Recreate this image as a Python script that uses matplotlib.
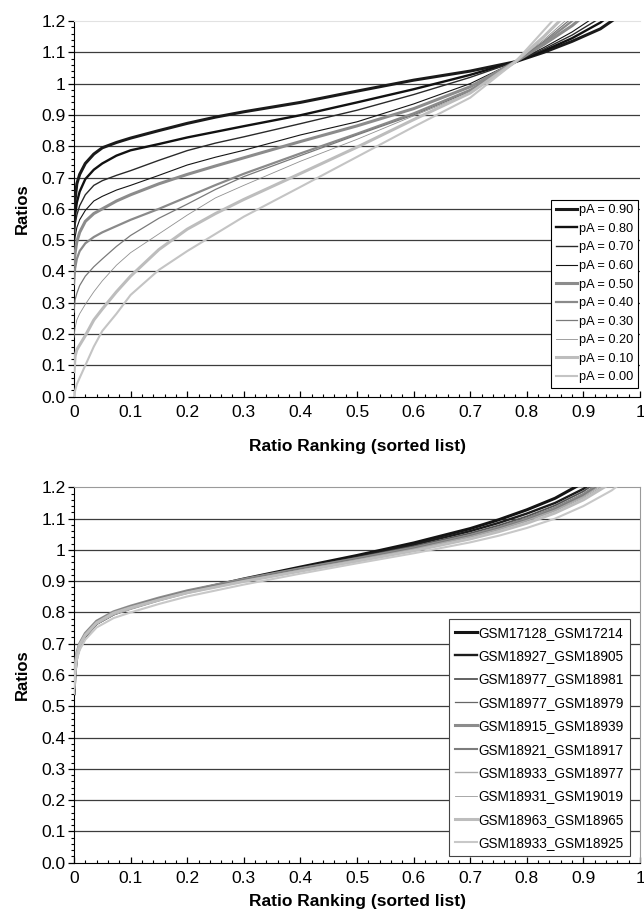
import matplotlib
matplotlib.use("Agg")
import matplotlib.pyplot as plt
from matplotlib.ticker import MultipleLocator

plt.rcParams['font.family'] = ['Liberation Sans', 'DejaVu Sans']

# ---- top panel : simulated mixtures, pA = 0.90 ... 0.00 ----
top_x = [0, 0.002, 0.005, 0.01, 0.02, 0.035, 0.05, 0.075, 0.1, 0.15, 0.2, 0.25,
         0.3, 0.4, 0.5, 0.6, 0.7, 0.78, 0.83, 0.88, 0.93, 0.97, 1.0]

pA_labels = ["pA = 0.90", "pA = 0.80", "pA = 0.70", "pA = 0.60", "pA = 0.50",
             "pA = 0.40", "pA = 0.30", "pA = 0.20", "pA = 0.10", "pA = 0.00"]

pA_090 = [0.57, 0.63, 0.68, 0.71, 0.745, 0.775, 0.795, 0.812, 0.826, 0.85, 0.873, 0.893,
          0.91, 0.94, 0.976, 1.011, 1.04, 1.07, 1.10, 1.135, 1.175, 1.225, 1.3]
pA_080 = [0.52, 0.58, 0.62, 0.655, 0.695, 0.725, 0.745, 0.77, 0.787, 0.807, 0.828, 0.846,
          0.864, 0.899, 0.94, 0.982, 1.028, 1.07, 1.105, 1.145, 1.195, 1.25, 1.32]
pA_070 = [0.52, 0.55, 0.58, 0.61, 0.645, 0.675, 0.69, 0.707, 0.722, 0.755, 0.786, 0.81,
          0.83, 0.872, 0.915, 0.965, 1.02, 1.07, 1.11, 1.155, 1.21, 1.28, 1.35]
pA_060 = [0.48, 0.51, 0.54, 0.565, 0.595, 0.625, 0.64, 0.66, 0.675, 0.707, 0.74, 0.765,
          0.787, 0.836, 0.878, 0.935, 1.0, 1.07, 1.115, 1.165, 1.225, 1.3, 1.37]
pA_050 = [0.42, 0.46, 0.495, 0.525, 0.56, 0.585, 0.60, 0.625, 0.645, 0.68, 0.71, 0.737,
          0.763, 0.815, 0.865, 0.92, 0.99, 1.07, 1.125, 1.185, 1.26, 1.33, 1.4]
pA_040 = [0.36, 0.41, 0.44, 0.465, 0.49, 0.51, 0.525, 0.545, 0.565, 0.60, 0.638, 0.676,
          0.712, 0.777, 0.84, 0.905, 0.98, 1.07, 1.13, 1.2, 1.28, 1.36, 1.42]
pA_030 = [0.27, 0.31, 0.33, 0.355, 0.385, 0.415, 0.44, 0.48, 0.515, 0.57, 0.615, 0.662,
          0.703, 0.77, 0.836, 0.9, 0.975, 1.07, 1.135, 1.21, 1.3, 1.38, 1.45]
pA_020 = [0.19, 0.22, 0.245, 0.265, 0.295, 0.335, 0.37, 0.42, 0.46, 0.52, 0.58, 0.635,
          0.675, 0.752, 0.822, 0.897, 0.97, 1.07, 1.14, 1.22, 1.31, 1.39, 1.46]
pA_010 = [0.08, 0.13, 0.15, 0.165, 0.195, 0.245, 0.28, 0.335, 0.385, 0.47, 0.535, 0.585,
          0.63, 0.713, 0.797, 0.885, 0.97, 1.07, 1.15, 1.24, 1.33, 1.41, 1.48]
pA_000 = [0.0, 0.02, 0.04, 0.06, 0.10, 0.16, 0.21, 0.265, 0.325, 0.405, 0.465, 0.52,
          0.575, 0.67, 0.766, 0.862, 0.955, 1.07, 1.17, 1.27, 1.36, 1.43, 1.5]

top_series = [pA_090, pA_080, pA_070, pA_060, pA_050, pA_040, pA_030, pA_020, pA_010, pA_000]
top_colors = ['#1a1a1a', '#111111', '#2a2a2a', '#151515', '#8c8c8c',
              '#8a8a8a', '#7a7a7a', '#909090', '#bdbdbd', '#c4c4c4']
top_widths = [2.2, 1.7, 1.0, 0.8, 2.2, 1.6, 0.9, 0.6, 2.2, 1.5]

# ---- bottom panel : real array pairs ----
bot_x = [0, 0.002, 0.005, 0.01, 0.02, 0.04, 0.07, 0.1, 0.15, 0.2, 0.3, 0.4, 0.5,
         0.6, 0.7, 0.75, 0.8, 0.85, 0.9, 0.95, 1.0]

gsm_labels = ["GSM17128_GSM17214", "GSM18927_GSM18905", "GSM18977_GSM18981",
              "GSM18977_GSM18979", "GSM18915_GSM18939", "GSM18921_GSM18917",
              "GSM18933_GSM18977", "GSM18931_GSM19019", "GSM18963_GSM18965",
              "GSM18933_GSM18925"]

g1 = [0.54, 0.61, 0.66, 0.69, 0.725, 0.765, 0.795, 0.815, 0.842, 0.866, 0.907, 0.945, 0.982,
      1.022, 1.068, 1.096, 1.128, 1.165, 1.215, 1.3, 1.4]
g2 = [0.55, 0.62, 0.665, 0.695, 0.728, 0.765, 0.795, 0.813, 0.84, 0.864, 0.905, 0.942, 0.978,
      1.016, 1.06, 1.086, 1.116, 1.15, 1.195, 1.26, 1.35]
g3 = [0.56, 0.625, 0.668, 0.698, 0.73, 0.768, 0.797, 0.815, 0.842, 0.866, 0.906, 0.941, 0.975,
      1.011, 1.053, 1.078, 1.107, 1.142, 1.187, 1.25, 1.33]
g4 = [0.55, 0.62, 0.665, 0.695, 0.727, 0.765, 0.796, 0.814, 0.841, 0.865, 0.904, 0.939, 0.972,
      1.007, 1.048, 1.073, 1.102, 1.136, 1.18, 1.24, 1.32]
g5 = [0.57, 0.63, 0.67, 0.70, 0.733, 0.772, 0.802, 0.82, 0.846, 0.869, 0.906, 0.94, 0.972,
      1.006, 1.046, 1.07, 1.098, 1.132, 1.176, 1.235, 1.31]
g6 = [0.56, 0.625, 0.668, 0.698, 0.73, 0.77, 0.80, 0.818, 0.844, 0.867, 0.904, 0.938, 0.97,
      1.004, 1.044, 1.068, 1.096, 1.13, 1.174, 1.232, 1.31]
g7 = [0.55, 0.62, 0.662, 0.692, 0.724, 0.762, 0.792, 0.81, 0.837, 0.861, 0.90, 0.935, 0.968,
      1.002, 1.042, 1.066, 1.094, 1.127, 1.17, 1.228, 1.3]
g8 = [0.56, 0.625, 0.665, 0.695, 0.727, 0.766, 0.797, 0.815, 0.841, 0.865, 0.902, 0.936, 0.968,
      1.001, 1.04, 1.063, 1.091, 1.124, 1.166, 1.222, 1.3]
g9 = [0.56, 0.625, 0.666, 0.696, 0.728, 0.767, 0.798, 0.815, 0.84, 0.863, 0.899, 0.932, 0.964,
      0.997, 1.035, 1.058, 1.085, 1.118, 1.16, 1.215, 1.29]
g10 = [0.54, 0.60, 0.648, 0.68, 0.713, 0.752, 0.782, 0.80, 0.827, 0.851, 0.889, 0.924, 0.957,
       0.989, 1.024, 1.045, 1.07, 1.10, 1.14, 1.19, 1.26]

bot_series = [g1, g2, g3, g4, g5, g6, g7, g8, g9, g10]
bot_colors = ['#141414', '#1c1c1c', '#555555', '#666666', '#8c8c8c',
              '#7c7c7c', '#aaaaaa', '#9a9a9a', '#bdbdbd', '#c8c8c8']
bot_widths = [2.2, 1.7, 1.3, 0.9, 2.2, 1.5, 1.0, 0.6, 2.2, 1.5]

y_ticks = [0.0, 0.1, 0.2, 0.3, 0.4, 0.5, 0.6, 0.7, 0.8, 0.9, 1.0, 1.1, 1.2]
y_tick_labels = ['0.0', '0.1', '0.2', '0.3', '0.4', '0.5', '0.6', '0.7', '0.8', '0.9', '1', '1.1', '1.2']
x_ticks = [0, 0.1, 0.2, 0.3, 0.4, 0.5, 0.6, 0.7, 0.8, 0.9, 1.0]
x_tick_labels = ['0', '0.1', '0.2', '0.3', '0.4', '0.5', '0.6', '0.7', '0.8', '0.9', '1']


def style_axes(ax, boxed, xlabel_pad):
    ax.set_xlim(0, 1)
    ax.set_ylim(0, 1.2)
    for yv in y_ticks[1:-1]:
        ax.axhline(yv, color='#3c3c3c', lw=0.9, zorder=1)
    ax.set_yticks(y_ticks)
    ax.set_yticklabels(y_tick_labels)
    ax.set_xticks(x_ticks)
    ax.set_xticklabels(x_tick_labels)
    ax.yaxis.set_minor_locator(MultipleLocator(0.02))
    ax.xaxis.set_minor_locator(MultipleLocator(0.02))
    ax.tick_params(axis='y', which='major', direction='out', length=4, width=0.9, labelsize=12.5, pad=2)
    ax.tick_params(axis='y', which='minor', direction='out', length=2.5, width=0.8)
    ax.tick_params(axis='x', which='major', direction='in', length=4, width=0.9, labelsize=12.5, pad=6)
    ax.tick_params(axis='x', which='minor', direction='in', length=2.5, width=0.8)
    ax.spines['left'].set_color('black')
    ax.spines['bottom'].set_color('black')
    if boxed:
        ax.spines['top'].set_color('#9a9a9a')
        ax.spines['right'].set_color('#9a9a9a')
    else:
        ax.spines['top'].set_color('#e2e2e2')
        ax.spines['right'].set_visible(False)
    ax.set_xlabel("Ratio Ranking (sorted list)", fontsize=12.5, fontweight='bold', labelpad=xlabel_pad)
    ax.set_ylabel("Ratios", fontsize=12, fontweight='bold', labelpad=8)


fig = plt.figure(figsize=(6.44, 9.17), dpi=100)
ax1 = fig.add_axes([0.1149, 0.5674, 0.8789, 0.4097])
ax2 = fig.add_axes([0.1149, 0.0592, 0.8789, 0.4094])

for ys, lab, c, w in zip(top_series, pA_labels, top_colors, top_widths):
    ax1.plot(top_x, ys, color=c, lw=w, label=lab, zorder=3, solid_joinstyle='round')
style_axes(ax1, False, 14)
leg1 = ax1.legend(loc='upper right', bbox_to_anchor=(0.9965, 0.5236), borderaxespad=0,
                  fontsize=9.2, handlelength=1.7, handletextpad=0.15, labelspacing=0.51,
                  borderpad=0.35, fancybox=False, framealpha=1, edgecolor='black')
leg1.get_frame().set_linewidth(0.8)

for ys, lab, c, w in zip(bot_series, gsm_labels, bot_colors, bot_widths):
    ax2.plot(bot_x, ys, color=c, lw=w, label=lab, zorder=3, solid_joinstyle='round')
style_axes(ax2, True, 6)
leg2 = ax2.legend(loc='upper right', bbox_to_anchor=(0.982, 0.648), borderaxespad=0,
                  fontsize=9.8, handlelength=1.6, handletextpad=0.1, labelspacing=0.69,
                  borderpad=0.45, fancybox=False, framealpha=1, edgecolor='#444444')
leg2.get_frame().set_linewidth(0.8)

fig.savefig("out.png", dpi=100)
